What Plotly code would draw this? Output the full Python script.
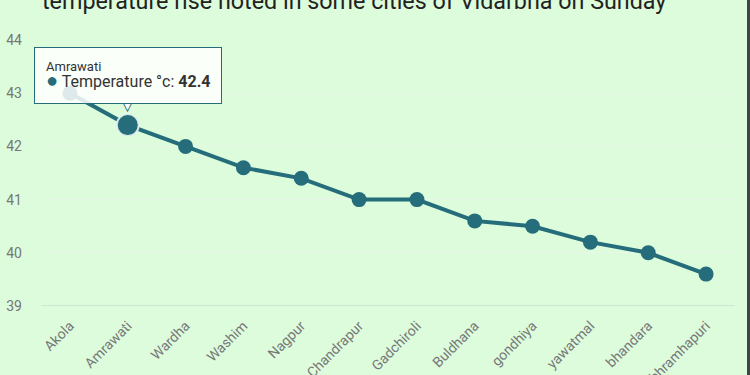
import plotly.graph_objects as go

cities = ["Akola", "Amrawati", "Wardha", "Washim", "Nagpur", "Chandrapur",
          "Gadchiroli", "Buldhana", "gondhiya", "yawatmal", "bhandara", "bhramhapuri"]
temps = [43.0, 42.4, 42.0, 41.6, 41.4, 41.0, 41.0, 40.6, 40.5, 40.2, 40.0, 39.6]
y_ticks = [39, 40, 41, 42, 43, 44]
title_text = "temperature rise noted in some cities of Vidarbha on Sunday"
hover_idx = 1

TEAL = "#256d7b"
BG = "#dcfcdc"
L, R, T, B = 41, 15, 40, 69
PW = 750 - L - R
PH = 375 - T - B

fig = go.Figure()
fig.add_trace(go.Scatter(
    x=cities, y=temps, mode="lines+markers",
    line=dict(color=TEAL, width=4),
    marker=dict(size=15, color=TEAL),
    name="Temperature °c", showlegend=False, hoverinfo="skip"))
fig.add_trace(go.Scatter(
    x=[cities[hover_idx]], y=[temps[hover_idx]], mode="markers",
    marker=dict(size=22, color=TEAL, line=dict(color="rgba(230,245,240,0.9)", width=2)),
    showlegend=False, hoverinfo="skip"))

fig.update_layout(
    width=750, height=375,
    margin=dict(l=L, r=R, t=T, b=B, autoexpand=False),
    paper_bgcolor=BG, plot_bgcolor=BG,
    font=dict(family="Roboto", color="#666"),
    title=dict(text=title_text, x=42/750, xanchor="left", xref="container",
               y=0.997, yanchor="middle", yref="container",
               font=dict(family="Roboto", size=23.3, color="#222")),
    xaxis=dict(type="category", range=[-0.5, len(cities) - 0.5], automargin=False,
               tickangle=-45, tickfont=dict(size=14, color="#777"),
               ticklabelstandoff=8,
               showgrid=False, showline=False, zeroline=False, ticks=""),
    yaxis=dict(range=[39, 44], tickvals=y_ticks, tickfont=dict(size=14, color="#777"),
               showgrid=True, gridcolor="#e9f7ea", gridwidth=1, zeroline=False,
               automargin=False, showline=False, ticklabelstandoff=18),
    hovermode=False,
)

# baseline at bottom
fig.add_shape(type="line", xref="paper", yref="y", x0=0, x1=1, y0=y_ticks[0], y1=y_ticks[0],
              line=dict(color="#c9e8d6", width=2), layer="below")
# right dark border
bx = (748.5 - L) / PW
fig.add_shape(type="line", xref="paper", yref="paper", x0=bx, x1=bx,
              y0=-B / PH - 0.05, y1=1 + T / PH + 0.05, line=dict(color="#444", width=3))

# tooltip pointer
fig.add_annotation(
    x=cities[hover_idx], y=temps[hover_idx], xref="x", yref="y",
    text="▼", showarrow=False, yshift=18,
    font=dict(size=15, color=TEAL))
fig.add_annotation(
    x=cities[hover_idx], y=temps[hover_idx], xref="x", yref="y",
    text="▼", showarrow=False, yshift=19.5,
    font=dict(size=13, color="rgb(250,253,250)"))
# tooltip box
fig.add_annotation(
    x=cities[hover_idx], y=temps[hover_idx], xref="x", yref="y",
    text=("<span style='font-size:13px;color:#333'>" + cities[hover_idx] + "</span><br>"
          "<span style='color:" + TEAL + ";font-size:20px'>●</span>"
          "<span style='font-size:16px;color:#333'> Temperature °c: <b>"
          + str(temps[hover_idx]) + "</b></span>"),
    showarrow=False, align="left", xanchor="center", yanchor="bottom", yshift=21,
    bgcolor="rgba(255,255,255,0.85)", bordercolor=TEAL, borderwidth=1, borderpad=11,
    font=dict(family="Roboto"))

fig.write_html("out.html", config={"displayModeBar": False},
               post_script="document.body.style.margin='0';document.body.style.overflow='hidden';")
